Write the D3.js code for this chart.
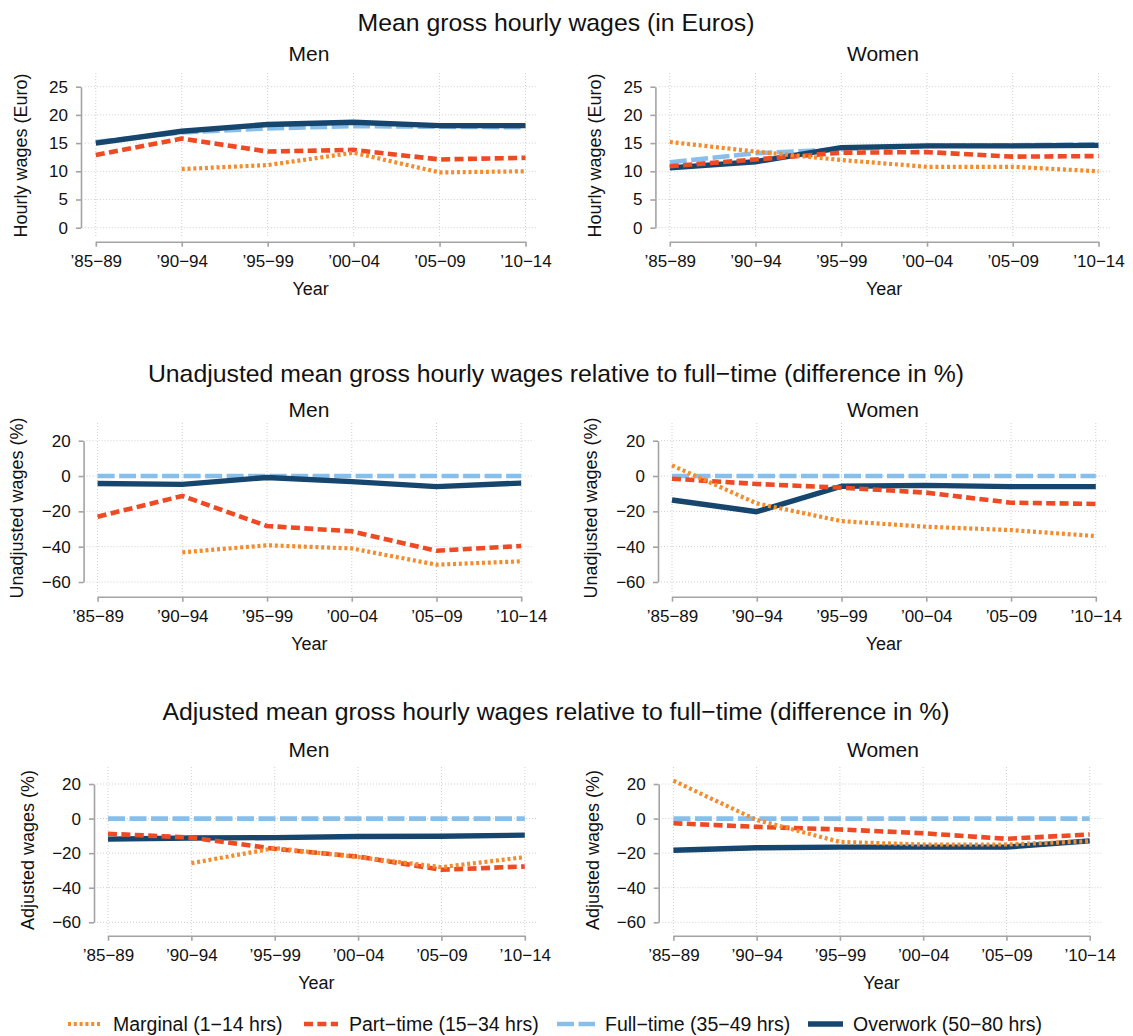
<!DOCTYPE html>
<html>
<head>
<meta charset="utf-8">
<script src="https://cdn.jsdelivr.net/npm/d3@7"></script>
<style>
  html, body { margin: 0; padding: 0; background: #fff; }
  svg { display: block; font-family: "Liberation Sans", Arial, Helvetica, sans-serif; }
</style>
</head>
<body>
<svg id="chart" width="1133" height="1036"></svg>
<script>
// ---------------- DATA ----------------
const categories = ["’85−89", "’90−94", "’95−99", "’00−04", "’05−09", "’10−14"];
const seriesNames = ["Marginal (1−14 hrs)", "Part−time (15−34 hrs)", "Full−time (35−49 hrs)", "Overwork (50−80 hrs)"];
const rowTitles = [
  "Mean gross hourly wages (in Euros)",
  "Unadjusted mean gross hourly wages relative to full−time (difference in %)",
  "Adjusted mean gross hourly wages relative to full−time (difference in %)"
];
const colTitles = ["Men", "Women"];
const yAxisTitles = ["Hourly wages (Euro)", "Unadjusted wages (%)", "Adjusted wages (%)"];
const xAxisTitle = "Year";
const wageTicks = [0, 5, 10, 15, 20, 25];
const pctTicks = [-60, -40, -20, 0, 20];

// Mean gross hourly wages, Men
const wageMenMarginal = [null, 10.4, 11.1, 13.3, 9.8, 10.0];
const wageMenPart     = [12.9, 15.8, 13.5, 13.8, 12.1, 12.4];
const wageMenFull     = [15.2, 16.9, 17.6, 18.0, 17.9, 17.8];
const wageMenOver     = [15.0, 17.1, 18.3, 18.7, 18.1, 18.1];
// Mean gross hourly wages, Women
const wageWomenMarginal = [15.2, 13.5, 12.0, 10.8, 10.8, 10.0];
const wageWomenPart     = [10.9, 12.1, 13.3, 13.4, 12.6, 12.7];
const wageWomenFull     = [11.6, 13.2, 13.9, 14.5, 14.6, 14.8];
const wageWomenOver     = [10.6, 11.7, 14.2, 14.5, 14.5, 14.6];
// Unadjusted difference (%), Men
const unadjMenMarginal = [null, -43.2, -39.2, -41.0, -50.2, -48.3];
const unadjMenPart     = [-23.0, -11.3, -28.3, -31.3, -42.3, -39.6];
const unadjMenFull     = [0, 0, 0, 0, 0, 0];
const unadjMenOver     = [-4.2, -4.7, -0.8, -3.2, -6.0, -4.0];
// Unadjusted difference (%), Women
const unadjWomenMarginal = [6.0, -15.5, -25.5, -28.7, -30.6, -34.0];
const unadjWomenPart     = [-1.5, -4.5, -6.6, -9.4, -15.1, -15.8];
const unadjWomenFull     = [0, 0, 0, 0, 0, 0];
const unadjWomenOver     = [-13.6, -20.2, -5.8, -5.3, -6.0, -6.0];
// Adjusted difference (%), Men
const adjMenMarginal = [null, -25.8, -17.1, -22.3, -28.1, -22.3];
const adjMenPart     = [-8.8, -11.0, -17.5, -22.0, -29.6, -27.7];
const adjMenFull     = [0, 0, 0, 0, 0, 0];
const adjMenOver     = [-11.9, -11.2, -11.0, -10.4, -10.2, -9.6];
// Adjusted difference (%), Women
const adjWomenMarginal = [21.9, -0.8, -13.5, -15.0, -15.0, -13.1];
const adjWomenPart     = [-2.7, -4.8, -6.3, -8.5, -11.7, -9.2];
const adjWomenFull     = [0, 0, 0, 0, 0, 0];
const adjWomenOver     = [-18.3, -16.9, -16.5, -16.5, -16.5, -12.9];

// ---------------- STYLES ----------------
const seriesStyles = [
  { color: "#f58b2a", width: 4.2, dash: "3,2.8" },
  { color: "#ee4a24", width: 4.6, dash: "9,4.4" },
  { color: "#88bfea", width: 4.6, dash: "17,4.5" },
  { color: "#16466e", width: 5.4, dash: null }
];
const drawOrder = [2, 3, 1, 0]; // full-time at bottom, marginal on top
const FONT = "'Liberation Sans', Arial, Helvetica, sans-serif";

// ---------------- LAYOUT ----------------
const rowLayout = [
  { domain: [0, 25], ticks: wageTicks, yBottom: 227.7, yTop: 86.7, plotTop: 73, plotBottom: 238, axisY: 241.7, titleY: 30.7, subY: 60.5 },
  { domain: [-60, 20], ticks: pctTicks, yBottom: 582, yTop: 440.7, plotTop: 423, plotBottom: 593, axisY: 596.7, titleY: 381.7, subY: 416.7 },
  { domain: [-60, 20], ticks: pctTicks, yBottom: 922.3, yTop: 784, plotTop: 767, plotBottom: 933, axisY: 935.7, titleY: 719.7, subY: 756.7 }
];
const panelLayout = [
  [ { axisX: 81, x0: 95.8, x1: 525.5, labX: 20.7 }, { axisX: 655.4, x0: 669.8, x1: 1098.5, labX: 594.5 } ],
  [ { axisX: 83.6, x0: 97.6, x1: 521.2, labX: 16.5 }, { axisX: 658, x0: 672, x1: 1095.8, labX: 590.5 } ],
  [ { axisX: 94, x0: 108, x1: 524.8, labX: 27.5 }, { axisX: 658.7, x0: 673.4, x1: 1089.7, labX: 593 } ]
];
const panelData = [
  [ [wageMenMarginal, wageMenPart, wageMenFull, wageMenOver], [wageWomenMarginal, wageWomenPart, wageWomenFull, wageWomenOver] ],
  [ [unadjMenMarginal, unadjMenPart, unadjMenFull, unadjMenOver], [unadjWomenMarginal, unadjWomenPart, unadjWomenFull, unadjWomenOver] ],
  [ [adjMenMarginal, adjMenPart, adjMenFull, adjMenOver], [adjWomenMarginal, adjWomenPart, adjWomenFull, adjWomenOver] ]
];
const colCenters = [309, 883];
const titleCenter = 556;

const svg = d3.select("#chart");

rowLayout.forEach((row, r) => {
  svg.append("text")
    .attr("x", titleCenter).attr("y", row.titleY)
    .attr("text-anchor", "middle")
    .style("font-size", "24.8px").style("fill", "#111")
    .text(rowTitles[r]);

  panelLayout[r].forEach((p, c) => {
    const g = svg.append("g");
    const x = d3.scalePoint().domain(categories).range([p.x0, p.x1]);
    const y = d3.scaleLinear().domain(row.domain).range([row.yBottom, row.yTop]);
    const plotLeft = p.x0 - 11, plotRight = p.x1 + 12;

    g.append("text")
      .attr("x", colCenters[c]).attr("y", row.subY)
      .attr("text-anchor", "middle")
      .style("font-size", "21px").style("fill", "#111")
      .text(colTitles[c]);

    // grid
    g.append("g").selectAll("line").data(row.ticks).join("line")
      .attr("x1", plotLeft).attr("x2", plotRight)
      .attr("y1", d => y(d)).attr("y2", d => y(d))
      .attr("stroke", "#cfcfcf").attr("stroke-width", 1).attr("stroke-dasharray", "1,2");
    g.append("g").selectAll("line").data(categories).join("line")
      .attr("x1", d => x(d)).attr("x2", d => x(d))
      .attr("y1", row.plotTop).attr("y2", row.plotBottom)
      .attr("stroke", "#cfcfcf").attr("stroke-width", 1).attr("stroke-dasharray", "1,2");

    // axes
    const yAxis = g.append("g").attr("transform", `translate(${p.axisX},0)`)
      .call(d3.axisLeft(y).tickValues(row.ticks).tickSize(5).tickSizeOuter(0).tickPadding(8));
    const xAxis = g.append("g").attr("transform", `translate(0,${row.axisY})`)
      .call(d3.axisBottom(x).tickSize(5).tickSizeOuter(0).tickPadding(8));
    [yAxis, xAxis].forEach(a => {
      a.select(".domain").attr("stroke", "#a3a3a3").attr("stroke-width", 1.6);
      a.selectAll(".tick line").attr("stroke", "#a3a3a3").attr("stroke-width", 1.6);
      a.selectAll(".tick text").style("font-family", FONT).style("font-size", "17px").attr("fill", "#111");
    });

    // axis titles
    g.append("text")
      .attr("transform", `translate(${p.labX},${(row.plotTop + row.plotBottom) / 2}) rotate(-90)`)
      .attr("text-anchor", "middle").attr("dy", "0.35em")
      .style("font-size", "18px").style("fill", "#111")
      .text(yAxisTitles[r]);
    g.append("text")
      .attr("x", (p.x0 + p.x1) / 2).attr("y", row.axisY + 53)
      .attr("text-anchor", "middle")
      .style("font-size", "18px").style("fill", "#111")
      .text(xAxisTitle);

    // series
    const line = d3.line()
      .defined(d => d.v !== null)
      .x(d => x(d.cat)).y(d => y(d.v));
    const series = panelData[r][c];
    drawOrder.forEach(s => {
      const pts = series[s].map((v, i) => ({ cat: categories[i], v }));
      const st = seriesStyles[s];
      g.append("path")
        .datum(pts)
        .attr("d", line)
        .attr("fill", "none")
        .attr("stroke", st.color)
        .attr("stroke-width", st.width)
        .attr("stroke-linejoin", "round")
        .attr("stroke-dasharray", st.dash);
    });
  });
});

// ---------------- LEGEND ----------------
const legendY = 1024;
const legendItems = [
  { s: 0, x1: 68, x2: 102, tx: 113 },
  { s: 1, x1: 304, x2: 338, tx: 349 },
  { s: 2, x1: 557, x2: 595, tx: 605 },
  { s: 3, x1: 808, x2: 843, tx: 853 }
];
const lg = svg.append("g");
legendItems.forEach(it => {
  const st = seriesStyles[it.s];
  lg.append("line")
    .attr("x1", it.x1).attr("x2", it.x2).attr("y1", legendY).attr("y2", legendY)
    .attr("stroke", st.color).attr("stroke-width", st.width)
    .attr("stroke-dasharray", st.dash);
  lg.append("text")
    .attr("x", it.tx).attr("y", legendY).attr("dy", "0.36em")
    .style("font-size", "19.5px").style("fill", "#111")
    .text(seriesNames[it.s]);
});
</script>
</body>
</html>
